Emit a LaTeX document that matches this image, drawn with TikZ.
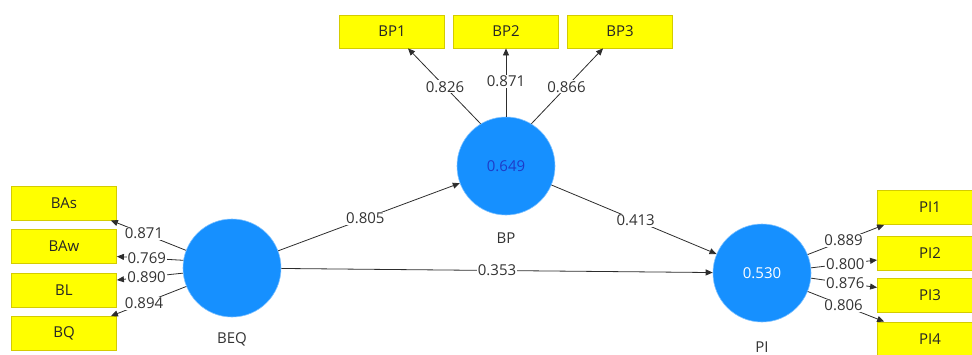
\documentclass[tikz,border=0pt]{standalone}
\usepackage{fontspec}
\setmainfont{Open Sans}
\usetikzlibrary{arrows.meta}
\definecolor{lvblue}{RGB}{22,144,255}
\definecolor{indyellow}{RGB}{255,255,0}
\definecolor{indborder}{RGB}{212,204,0}
\definecolor{edgegray}{RGB}{45,45,45}
\definecolor{rsqblue}{RGB}{30,60,200}

\begin{document}
\begin{tikzpicture}[x=1pt,y=-1pt,
  font=\fontsize{15}{17}\selectfont,
  latent/.style={circle,fill=lvblue,draw=lvblue!55!white,line width=0.6pt,
    minimum size=98pt,inner sep=0pt},
  indicator/.style={rectangle,fill=indyellow,draw=indborder,line width=0.8pt,
    minimum width=105pt,minimum height=34pt,inner sep=0pt,text=black!85},
  conn/.style={draw=edgegray,line width=0.8pt,-{Triangle[length=7pt,width=6pt]}},
  coef/.style={fill=white,inner sep=1pt,text=black!80},
  lvname/.style={text=black!80}
]
\useasboundingbox (0,0) rectangle (972,354);
\clip (0,0) rectangle (972,354);

% latent variables
\node[latent] (BEQ) at (232,268) {};
\node[latent,text=rsqblue] (BP) at (506,166) {0.649};
\node[latent,text=white] (PI) at (762,273) {0.530};
\node[lvname] (BEQlbl) at (232,339) {BEQ};
\node[lvname] (BPlbl) at (506,238) {BP};
\node[lvname] (PIlbl) at (762,347) {PI};

% indicators
\node[indicator] (BAs) at (64,203) {BAs};
\node[indicator] (BAw) at (64,246.5) {BAw};
\node[indicator] (BL) at (64,290) {BL};
\node[indicator] (BQ) at (64,333.5) {BQ};
\node[indicator,minimum height=33pt] (BP1) at (392,31.5) {BP1};
\node[indicator,minimum height=33pt] (BP2) at (506,31.5) {BP2};
\node[indicator,minimum height=33pt] (BP3) at (620,31.5) {BP3};
\node[indicator] (PI1) at (930,207.5) {PI1};
\node[indicator] (PI2) at (930,253) {PI2};
\node[indicator] (PI3) at (930,295.5) {PI3};
\node[indicator] (PI4) at (930,339) {PI4};

% outer loadings of BEQ
\draw[conn] (BEQ.159) -- node[coef,pos=0.56] {0.871} ([xshift=-6pt]BAs.south east);
\draw[conn] (BEQ.171) -- node[coef,pos=0.55] {0.769} ([yshift=-10pt]BAw.east);
\draw[conn] (BEQ.186) -- node[coef,pos=0.55] {0.890} ([yshift=10pt]BL.east);
\draw[conn] (BEQ.202) -- node[coef,pos=0.56] {0.894} ([xshift=-6pt]BQ.north east);

% outer loadings of BP
\draw[conn] (BP.121) -- node[coef,pos=0.49] {0.826} ([xshift=16pt]BP1.south);
\draw[conn] (BP.90) -- node[coef,pos=0.52] {0.871} (BP2.south);
\draw[conn] (BP.59) -- node[coef,pos=0.49] {0.866} ([xshift=-17pt]BP3.south);

% outer loadings of PI
\draw[conn] (PI.22) -- node[coef,pos=0.47] {0.889} ([xshift=7pt]PI1.south west);
\draw[conn] (PI.6) -- node[coef,pos=0.52] {0.800} ([yshift=-7pt]PI2.west);
\draw[conn] (PI.-6) -- node[coef,pos=0.52] {0.876} ([yshift=8pt]PI3.west);
\draw[conn] (PI.-22) -- node[coef,pos=0.47] {0.806} ([xshift=7pt]PI4.north west);

% path coefficients
\draw[conn] (BEQ) -- node[coef,pos=0.48] {0.805} (BP);
\draw[conn] (BEQ) -- node[coef,pos=0.5] {0.353} (PI);
\draw[conn] (BP) -- node[coef,pos=0.51] {0.413} (PI);
\end{tikzpicture}
\end{document}
